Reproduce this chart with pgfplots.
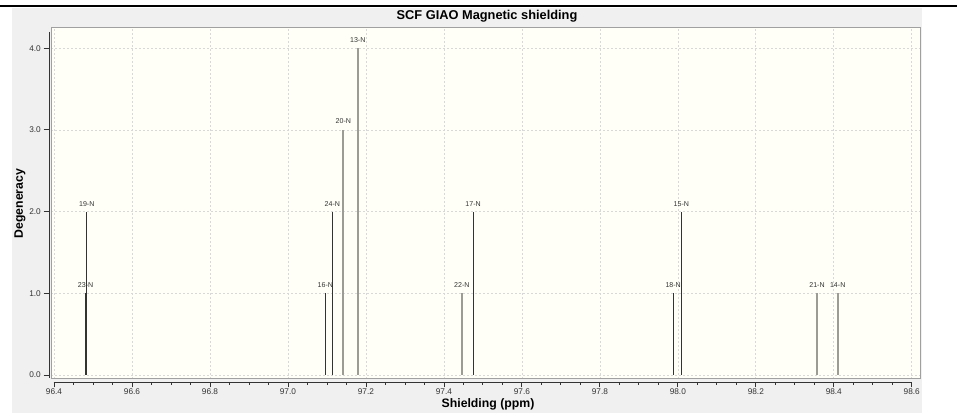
\documentclass[border=0pt]{standalone}
\usepackage{fontspec}
\setmainfont{Liberation Sans}
\usepackage{pgfplots}
\pgfplotsset{compat=1.18}
\definecolor{bggray}{HTML}{F0F0F0}
\definecolor{plotbg}{HTML}{FFFFF7}
\definecolor{darkline}{HTML}{333333}
\definecolor{grayline}{HTML}{9C9B94}
\definecolor{gridc}{HTML}{D8D8D8}
\definecolor{framec}{HTML}{A0A0A0}
\begin{document}
\begin{tikzpicture}[x=0.75pt,y=-0.75pt]
\path[use as bounding box] (0,0) rectangle (957,413);
\fill[white] (0,0) rectangle (957,413);
\fill[black] (0,4.8) rectangle (957,7.4);
\fill[bggray] (12,8) rectangle (922,413);
\begin{axis}[
  at={(38.25pt,-284.25pt)}, anchor=south west,
  scale only axis, width=651.75pt, height=263.25pt,
  xmin=96.3923, xmax=98.6211, ymin=-0.049, ymax=4.247,
  axis background/.style={fill=plotbg},
  axis line style={framec, line width=0.75pt},
  grid=major,
  major grid style={gridc, dash pattern=on 1.5pt off 1.5pt, line width=0.5pt},
  xtick={96.4,96.6,96.8,97.0,97.2,97.4,97.6,97.8,98.0,98.2,98.4,98.6},
  minor x tick num=3,
  ytick={0,1,2,3,4},
  xtick pos=bottom, ytick pos=left,
  tick align=outside,
  xtick style={darkline, line width=0.6pt, yshift=-2.25pt},
  ytick style={darkline, line width=0.6pt, xshift=-1.5pt},
  major tick length=4.1pt, minor tick length=2.25pt,
  tick label style={font=\fontsize{6.2}{7}\selectfont, text=darkline},
  /pgf/number format/assume math mode=true,
  xticklabel style={/pgf/number format/fixed, /pgf/number format/fixed zerofill, /pgf/number format/precision=1},
  yticklabel style={/pgf/number format/fixed, /pgf/number format/fixed zerofill, /pgf/number format/precision=1},
  every node near coord/.style={font=\fontsize{5.3}{6}\selectfont, text=darkline, anchor=south, inner sep=0pt, yshift=3.75pt},
]
\addplot[ycomb, darkline, line width=0.75pt, nodes near coords, point meta=explicit symbolic]
table[meta=label] {
x y label
96.484 2 19-N
96.481 1 23-N
97.096 1 16-N
97.114 2 24-N
97.475 2 17-N
97.988 1 18-N
98.009 2 15-N
};
\addplot[ycomb, grayline, line width=1.4pt, nodes near coords, point meta=explicit symbolic]
table[meta=label] {
x y label
97.142 3 20-N
97.179 4 13-N
97.446 1 22-N
98.357 1 21-N
98.410 1 14-N
};
\end{axis}
\draw[darkline, line width=0.75pt] (49,32) -- (49,378);
\draw[darkline, line width=0.75pt] (53.5,382) -- (912.2,382);
\node[font=\bfseries\fontsize{9.6}{11}\selectfont] at (487,16.5) {SCF GIAO Magnetic shielding};
\node[font=\bfseries\fontsize{9.2}{11}\selectfont] at (488,404.5) {Shielding (ppm)};
\node[rotate=90, font=\bfseries\fontsize{9.2}{11}\selectfont] at (20,203.7) {Degeneracy};
\end{tikzpicture}
\end{document}
